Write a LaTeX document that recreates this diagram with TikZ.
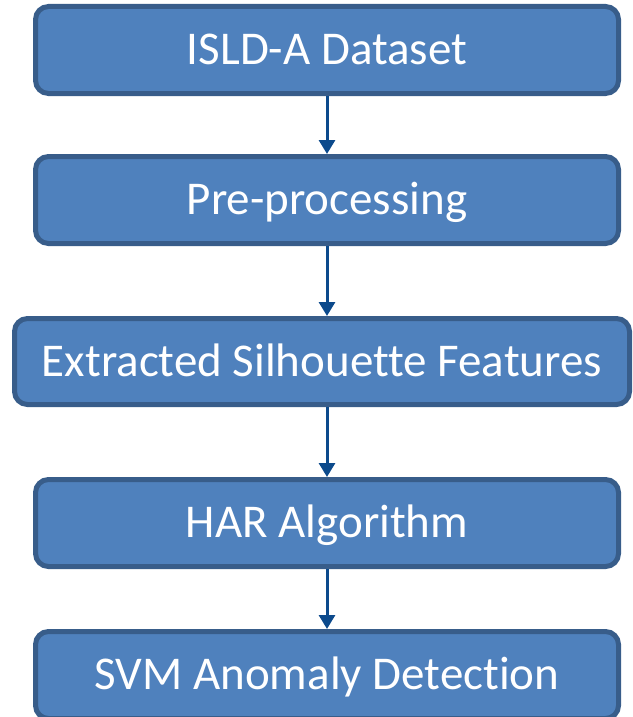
\documentclass[tikz,border=0pt]{standalone}
\usepackage{fontspec}
\setmainfont[Ligatures={NoCommon}]{Carlito}
\usetikzlibrary{arrows.meta}
\definecolor{boxfill}{RGB}{79,129,189}
\definecolor{boxline}{RGB}{56,93,138}
\definecolor{arrowcol}{RGB}{12,74,140}
\begin{document}
\begin{tikzpicture}[x=1pt,y=-1pt,
  flowbox/.style={draw=boxline,fill=boxfill,line width=5pt,rounded corners=13pt,
    inner sep=0pt,minimum width=583pt,minimum height=87pt,text=white,
    font=\fontsize{47}{54}\selectfont,text height=29.5pt,text depth=0pt},
  flowarrow/.style={draw=arrowcol,line width=3pt,-{Triangle[width=16pt,length=14pt]}}]
\useasboundingbox (0,0) rectangle (632,717);
\clip (0,0) rectangle (632,717);
\node[flowbox] (a) at (327,50) {ISLD-A Dataset};
\node[flowbox] (b) at (327,200) {Pre-processing};
\node[flowbox,minimum width=615pt,minimum height=86pt] (c) at (322,361.5) {Extracted Silhouette Features};
\node[flowbox] (d) at (327,523) {HAR Algorithm};
\node[flowbox] (e) at (327,675) {SVM Anomaly Detection};
\draw[flowarrow] (a.south -| 327,0) -- (b.north -| 327,0);
\draw[flowarrow] (b.south -| 327,0) -- (c.north -| 327,0);
\draw[flowarrow] (c.south -| 327,0) -- (d.north -| 327,0);
\draw[flowarrow] (d.south -| 327,0) -- (e.north -| 327,0);
\end{tikzpicture}
\end{document}
